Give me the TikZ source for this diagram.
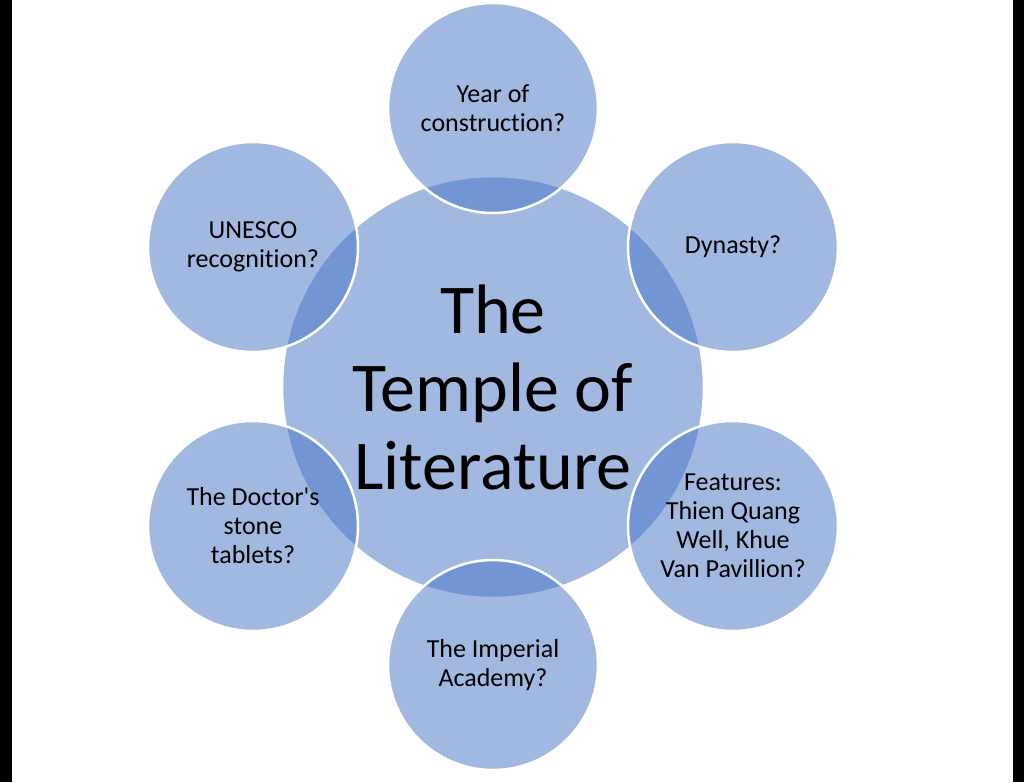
\documentclass[tikz,border=0pt]{standalone}
\usepackage{fontspec}
\setmainfont{Carlito}[Ligatures={NoCommon}]
\usetikzlibrary{positioning}
\definecolor{accentblue}{HTML}{4472C4}

\begin{document}
\begin{tikzpicture}[x=1pt,y=-1pt,
    bubble/.style={circle, draw=white, line width=2.5pt, fill=accentblue,
      fill opacity=0.5, text opacity=1, text=black, minimum size=210pt,
      inner sep=0pt, align=center, font=\fontsize{26}{29}\selectfont},
    hub/.style={bubble, minimum size=422pt, font=\fontsize{70}{78}\selectfont}]
  \useasboundingbox (0,0) rectangle (1024,782);
  \fill[black] (0,0) rectangle (11.5,782);
  \fill[black] (1012.5,0) rectangle (1024,782);
  % centre first, the small circles go over it
  \node[hub] (temple) at (493,387) {The\\Temple of\\Literature};
  \node[bubble] (year) at (493,108) {Year of\\construction?};
  \node[bubble] (dynasty) at (733,247) {Dynasty?};
  \node[bubble] (features) at (733,526) {Features:\\Thien Quang\\Well, Khue\\Van Pavillion?};
  \node[bubble] (academy) at (493,665) {The Imperial\\Academy?};
  \node[bubble] (tablets) at (253,526) {The Doctor\textquotesingle s\\stone\\tablets?};
  \node[bubble] (unesco) at (253,247) {UNESCO\\recognition?};
\end{tikzpicture}
\end{document}
